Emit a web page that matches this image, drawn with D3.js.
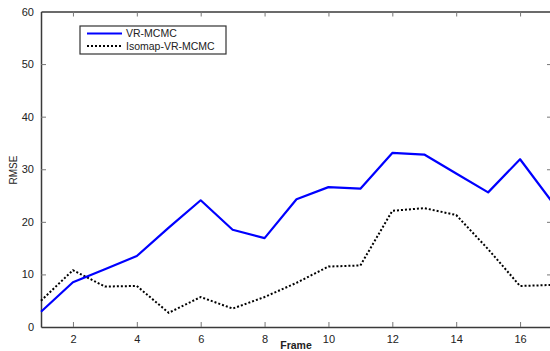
<!DOCTYPE html>
<html>
<head>
<meta charset="utf-8">
<script src="https://cdn.jsdelivr.net/npm/d3@7/dist/d3.min.js"></script>
<style>
  body { margin: 0; background: #fff; }
  svg text { font-family: "Liberation Sans", Arial, sans-serif; fill: #222; }
</style>
</head>
<body>
<svg id="chart" width="550" height="351"></svg>
<script>
// Frame numbers along x
var frames = [1, 2, 3, 4, 5, 6, 7, 8, 9, 10, 11, 12, 13, 14, 15, 16, 17];

// RMSE per frame
var vrMcmc = [2.9, 8.5, 11.0, 13.5, 18.9, 24.1, 18.5, 16.9, 24.3, 26.6, 26.3, 33.1, 32.8, 29.2, 25.6, 31.9, 23.8];
var isomapVrMcmc = [5.0, 10.8, 7.7, 7.8, 2.7, 5.7, 3.5, 5.7, 8.4, 11.5, 11.7, 22.1, 22.6, 21.3, 14.8, 7.8, 8.0];

var xTicks = [2, 4, 6, 8, 10, 12, 14, 16];
var yTicks = [0, 10, 20, 30, 40, 50, 60];
var seriesNames = ["VR-MCMC", "Isomap-VR-MCMC"];

// plot box (window.top is reserved, so no bare "top")
var plotLeft = 41, plotRight = 552, plotTop = 11.5, plotBottom = 327;

var svg = d3.select("#chart");

var x = d3.scaleLinear().domain([1, 17]).range([plotLeft, plotRight]);
var y = d3.scaleLinear().domain([0, 60]).range([plotBottom, plotTop]);

// axes, matlab style: ticks point inward, mirrored on top/right
var axisColor = "#3a3a3a";

var xAxis = svg.append("g")
    .attr("transform", "translate(0," + plotBottom + ")")
    .call(d3.axisBottom(x).tickValues(xTicks).tickSizeInner(-5).tickSizeOuter(0).tickPadding(8));
var xTop = svg.append("g")
    .attr("transform", "translate(0," + plotTop + ")")
    .call(d3.axisTop(x).tickValues(xTicks).tickSizeInner(-5).tickSizeOuter(0).tickFormat(""));
var yAxis = svg.append("g")
    .attr("transform", "translate(" + plotLeft + ",0)")
    .call(d3.axisLeft(y).tickValues(yTicks).tickSizeInner(-5).tickSizeOuter(0).tickPadding(7));
var yRight = svg.append("g")
    .attr("transform", "translate(" + plotRight + ",0)")
    .call(d3.axisRight(y).tickValues(yTicks).tickSizeInner(-5).tickSizeOuter(0).tickFormat(""));

[xAxis, xTop, yAxis, yRight].forEach(function(g) {
    g.select(".domain").attr("stroke", axisColor).attr("stroke-width", 1.5);
    g.selectAll(".tick line").attr("stroke", "#777").attr("stroke-width", 1);
    g.selectAll(".tick text")
        .style("font-size", "11px")
        .attr("fill", "#222");
});
yAxis.selectAll(".tick").filter(function(d) { return d === 0 || d === 60; }).select("line").remove();
yRight.selectAll(".tick").filter(function(d) { return d === 0 || d === 60; }).select("line").remove();

// axis titles
svg.append("text")
    .attr("x", (plotLeft + plotRight) / 2 - 0.5)
    .attr("y", 349)
    .attr("text-anchor", "middle")
    .style("font-size", "10.5px")
    .style("font-weight", "bold")
    .attr("fill", "#333")
    .text("Frame");

svg.append("text")
    .attr("transform", "translate(17,170) rotate(-90)")
    .attr("text-anchor", "middle")
    .style("font-size", "10px")
    .attr("fill", "#333")
    .text("RMSE");

// lines
var line = d3.line()
    .x(function(d, i) { return x(frames[i]); })
    .y(function(d) { return y(d); });

var plot = svg.append("g");

plot.append("path")
    .datum(isomapVrMcmc)
    .attr("fill", "none")
    .attr("stroke", "#000")
    .attr("stroke-width", 2)
    .attr("stroke-dasharray", "2,2")
    .attr("d", line);

plot.append("path")
    .datum(vrMcmc)
    .attr("fill", "none")
    .attr("stroke", "#0000ff")
    .attr("stroke-width", 2.2)
    .attr("stroke-linejoin", "round")
    .attr("d", line);

// legend
var legend = svg.append("g").attr("transform", "translate(80,26)");
legend.append("rect")
    .attr("width", 146)
    .attr("height", 28)
    .attr("fill", "#fff")
    .attr("stroke", "#333")
    .attr("stroke-width", 1.2);

var styles = [
    { color: "#0000ff", dash: null, width: 2.2 },
    { color: "#000", dash: "2,2", width: 2 }
];

seriesNames.forEach(function(name, i) {
    var row = legend.append("g").attr("transform", "translate(0," + (7.5 + i * 12.5) + ")");
    row.append("line")
        .attr("x1", 7).attr("x2", 42)
        .attr("stroke", styles[i].color)
        .attr("stroke-width", styles[i].width)
        .attr("stroke-dasharray", styles[i].dash);
    row.append("text")
        .attr("x", 46)
        .attr("y", 3.8)
        .style("font-size", "10.5px")
        .attr("fill", "#222")
        .text(name);
});
</script>
</body>
</html>
